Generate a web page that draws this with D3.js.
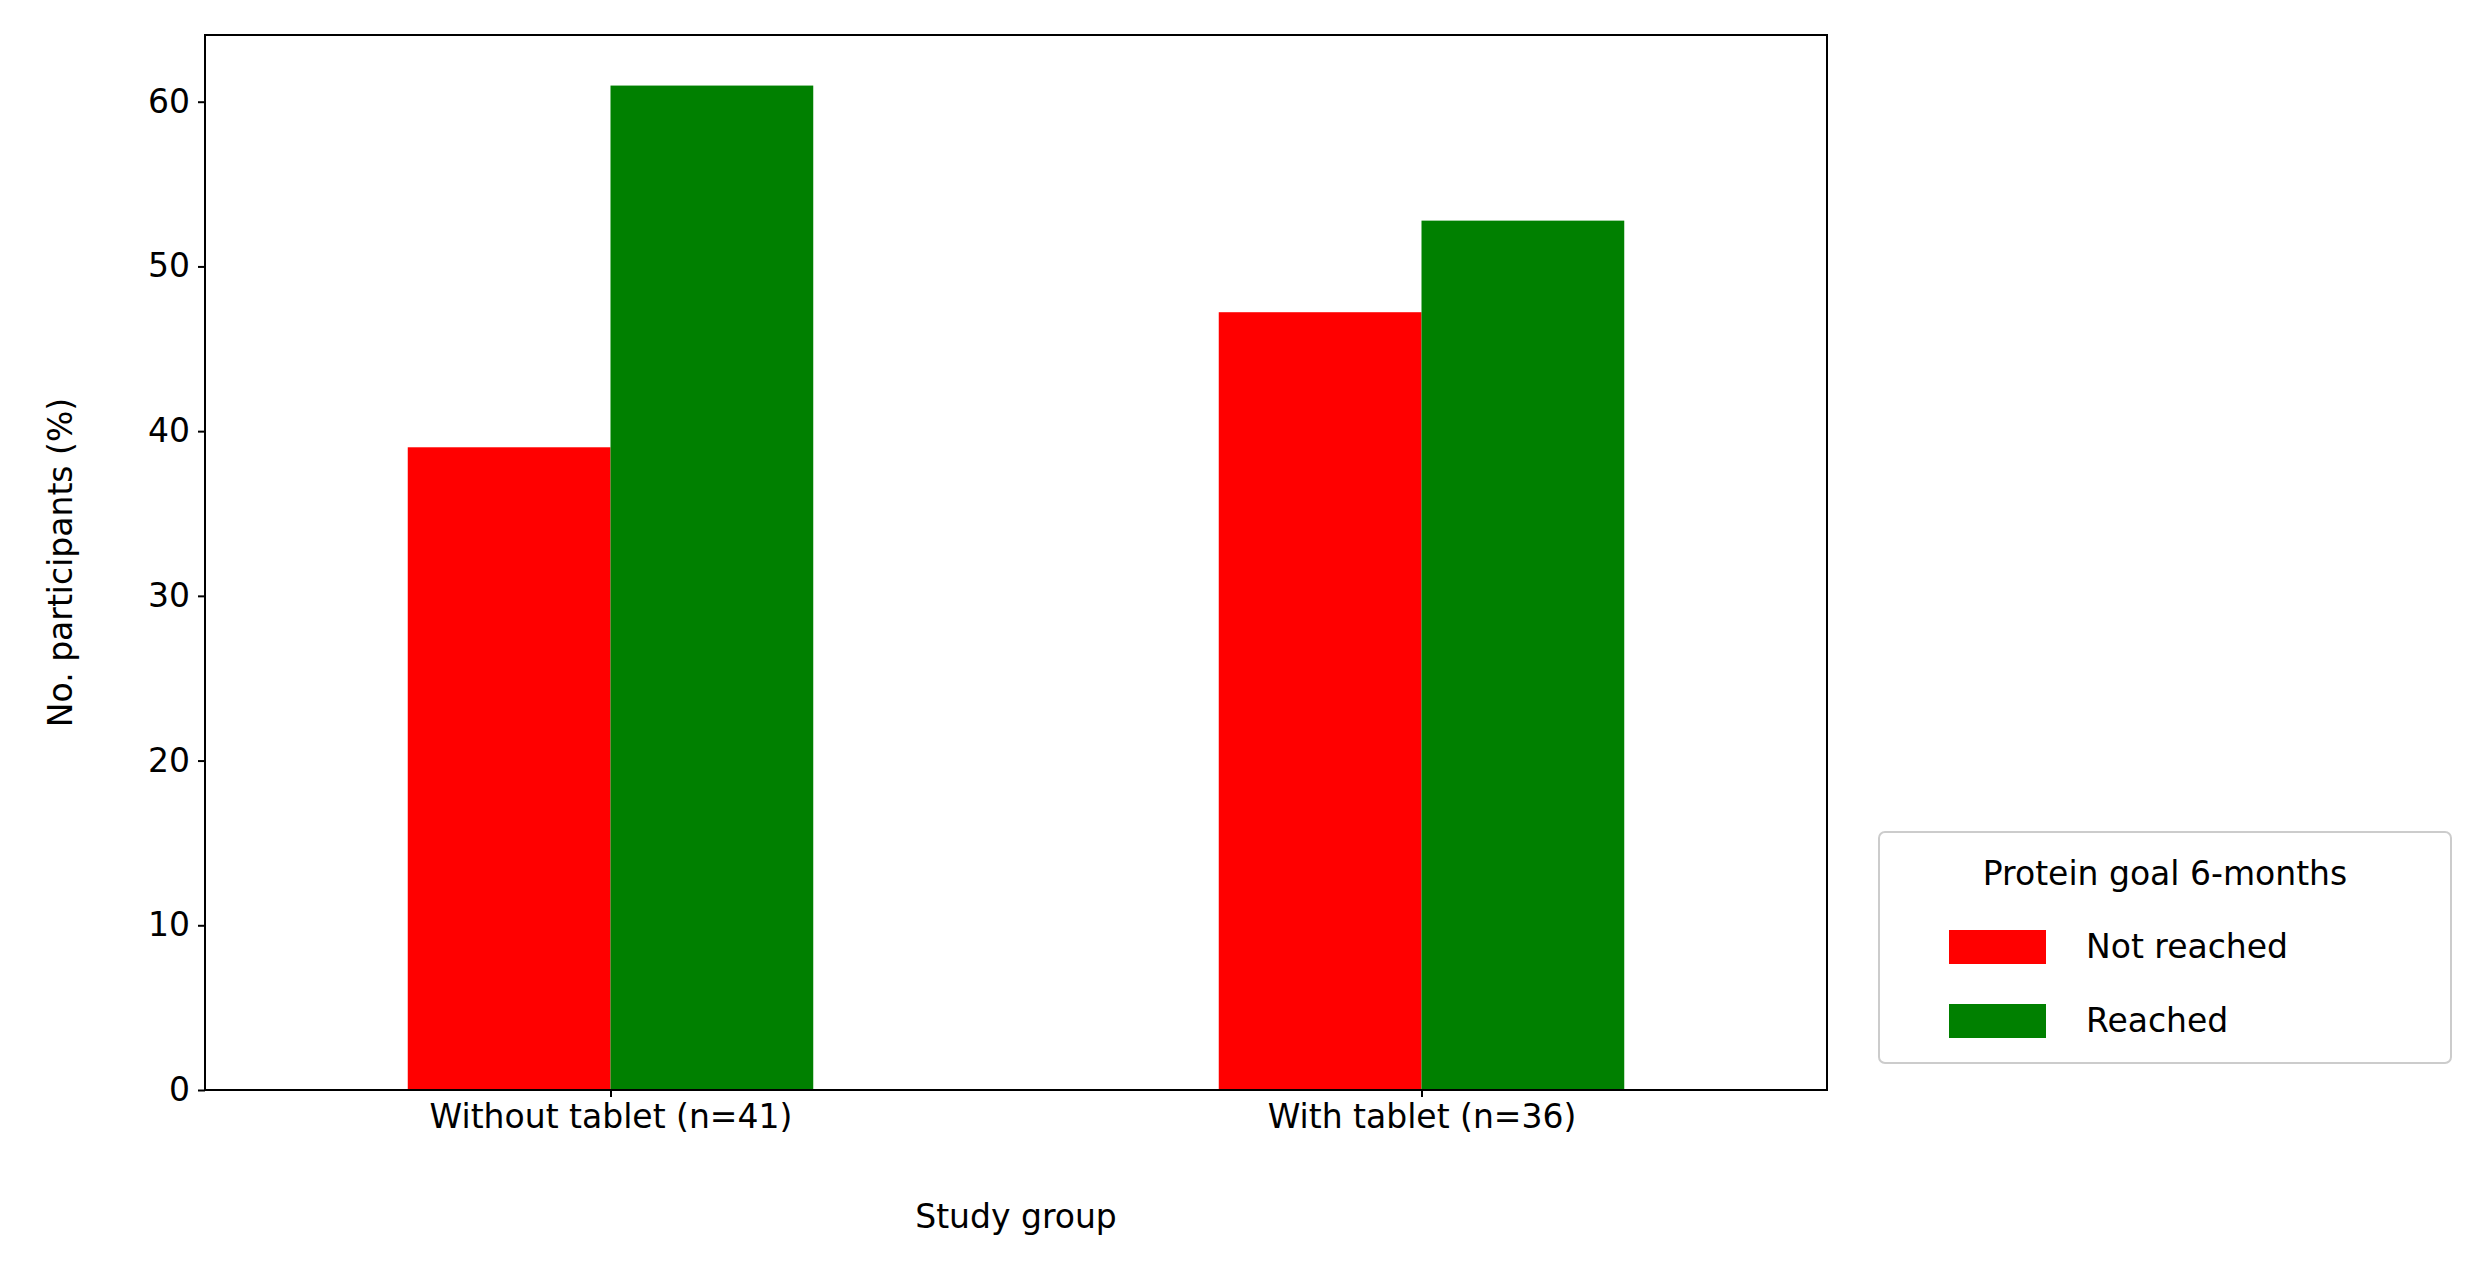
<!DOCTYPE html>
<html><head><meta charset="utf-8">
<script src="https://cdn.jsdelivr.net/npm/d3@7"></script>
<style>body{margin:0;background:#fff}text{font-family:"DejaVu Sans",sans-serif;fill:#000}</style>
</head><body><svg id="c" width="2476" height="1265"></svg>
<script>
const categories = ["Without tablet (n=41)", "With tablet (n=36)"];
const seriesNames = ["Not reached", "Reached"];
const notReached = [39.02, 47.22];
const reached = [60.98, 52.78];
const colors = ["#ff0000", "#008000"];
const yTicks = [0,10,20,30,40,50,60];

const svg = d3.select("#c");
const L=205, R=1827, T=35, B=1090;
const x = d3.scaleLinear().domain([-0.5,1.5]).range([L,R]);
const y = d3.scaleLinear().domain([0,64.05]).range([B,T]);
const series=[notReached,reached];
const bw=0.25;
series.forEach((vals,si)=>{
  svg.selectAll(null).data(vals).enter().append("rect")
    .attr("x",(d,i)=>x(i-bw+si*bw)).attr("width",x(bw)-x(0))
    .attr("y",d=>y(d)).attr("height",d=>B-y(d)).attr("fill",colors[si]);
});
const ya=svg.append("g").attr("transform",`translate(${L},0)`)
  .call(d3.axisLeft(y).tickValues(yTicks).tickSize(7).tickPadding(8));
const xa=svg.append("g").attr("transform",`translate(0,${B})`)
  .call(d3.axisBottom(x).tickValues([0,1]).tickFormat(i=>categories[i]).tickSize(7).tickPadding(8));
[ya,xa].forEach(a=>{a.selectAll("text").attr("font-size",33).style("font-family","DejaVu Sans");a.select(".domain").remove();a.selectAll("line").attr("stroke-width",2)});
svg.append("rect").attr("x",L).attr("y",T).attr("width",R-L).attr("height",B-T).attr("fill","none").attr("stroke","#000").attr("stroke-width",2);
svg.append("text").attr("x",(L+R)/2).attr("y",1228).attr("text-anchor","middle").attr("font-size",33).text("Study group");
svg.append("text").attr("transform",`translate(72,${(T+B)/2}) rotate(-90)`).attr("text-anchor","middle").attr("font-size",33).text("No. participants (%)");
const lg=svg.append("g");
lg.append("rect").attr("x",1879).attr("y",832).attr("width",572).attr("height",231).attr("rx",6).attr("fill","#fff").attr("stroke","#ccc").attr("stroke-width",2);
lg.append("text").attr("x",2165).attr("y",885).attr("text-anchor","middle").attr("font-size",33).text("Protein goal 6-months");
seriesNames.forEach((n,i)=>{
  lg.append("rect").attr("x",1949).attr("y",930+i*74).attr("width",97).attr("height",34).attr("fill",colors[i]);
  lg.append("text").attr("x",2086).attr("y",958+i*74).attr("font-size",33).text(n);
});
</script></body></html>
